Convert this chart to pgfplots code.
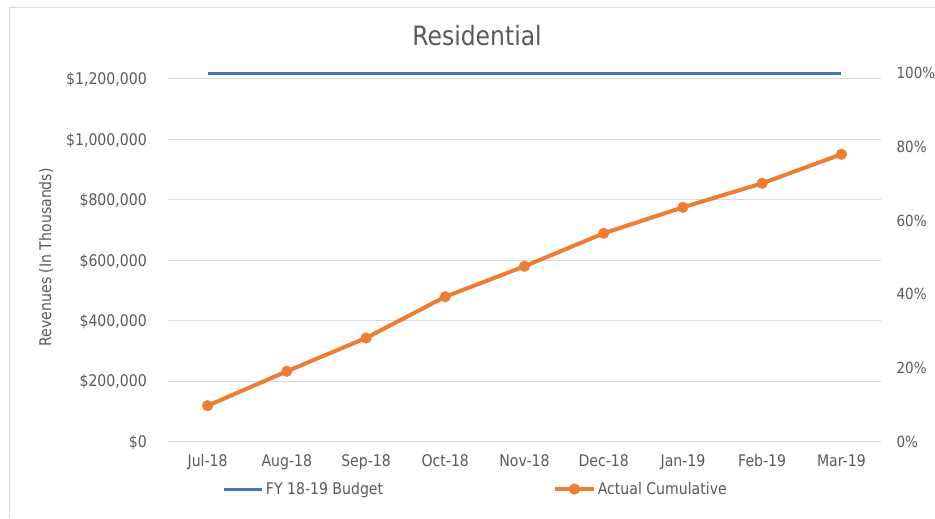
\documentclass[border=0pt]{standalone}
\usepackage{pgfplots}
\pgfplotsset{compat=1.18}
\usepackage{fontspec}
\setmainfont{DejaVu Sans}[FakeStretch=0.88]
\definecolor{budgetblue}{HTML}{4472C4}
\definecolor{actorange}{HTML}{ED7D31}
\definecolor{gridgray}{HTML}{D9D9D9}
\definecolor{textgray}{HTML}{595959}

\pgfplotstableread{
idx actual
0 118500
1 232400
2 342600
3 479300
4 580000
5 689200
6 775300
7 854700
8 950700
}\actualdata

\pgfplotstableread{
idx budget
0 1219800
1 1219800
2 1219800
3 1219800
4 1219800
5 1219800
6 1219800
7 1219800
8 1219800
}\budgetdata

\begin{document}
\begin{tikzpicture}
% page frame, in pixels x 0.75pt
\path[use as bounding box] (0,0) rectangle (701.25pt,-388.5pt);
\draw[gridgray, line width=0.75pt] (6.75pt,-388.5pt) -- (6.75pt,-5.25pt) -- (701.25pt,-5.25pt);

\begin{axis}[
    at={(126pt,-331.125pt)}, anchor=south west,
    scale only axis, width=534.75pt, height=276.375pt,
    xmin=-0.5, xmax=8.5, ymin=0, ymax=1219800,
    clip=false,
    axis line style={draw=none},
    major tick length=0pt,
    xtick={0,...,8},
    xticklabels={Jul-18,Aug-18,Sep-18,Oct-18,Nov-18,Dec-18,Jan-19,Feb-19,Mar-19},
    ytick={0,200000,400000,600000,800000,1000000,1200000},
    yticklabels={\$0,{\$200,000},{\$400,000},{\$600,000},{\$800,000},{\$1,000,000},{\$1,200,000}},
    scaled y ticks=false,
    ymajorgrids,
    grid style={gridgray, line width=0.75pt},
    tick label style={font=\fontsize{12}{14}\selectfont, text=textgray, inner sep=0pt},
    xticklabel style={anchor=base, yshift=-19pt},
    yticklabel style={anchor=base east, xshift=-15.75pt, yshift=-4.4pt},
    ylabel={Revenues (In Thousands)},
    ylabel style={at={(axis description cs:-0.1711,0.5)}, anchor=center,
        font=\fontsize{12}{14}\selectfont, text=textgray},
    title={Residential},
    title style={at={(axis description cs:0.4334,1.0787)}, anchor=center,
        font=\fontsize{20}{24}\selectfont, text=textgray},
    legend columns=2,
    legend style={draw=none, fill=none, at={(0.4313,-0.129)}, anchor=center,
        font=\fontsize{12}{14}\selectfont, text=textgray,
        nodes={inner xsep=1.5pt},
        /tikz/every even column/.append style={column sep=126pt},
        inner sep=0pt},
    legend image code/.code={
        \draw[mark repeat=2, mark phase=2, #1] plot coordinates {(0pt,0pt) (14.5pt,0pt) (29pt,0pt)};
    },
]
\addplot[budgetblue, line width=2.25pt, no marks] table[x=idx, y=budget] {\budgetdata};
\addlegendentry{FY 18-19 Budget}
\addplot[actorange, line width=3pt, mark=*, mark size=3.9pt,
    mark options={fill=actorange, draw=actorange, line width=0.5pt}]
    table[x=idx, y=actual] {\actualdata};
\addlegendentry{Actual Cumulative}
\end{axis}

\begin{axis}[
    at={(126pt,-331.125pt)}, anchor=south west,
    scale only axis, width=534.75pt, height=276.375pt,
    xmin=-0.5, xmax=8.5, ymin=0, ymax=1,
    axis line style={draw=none},
    major tick length=0pt,
    xtick=\empty,
    ytick pos=right,
    ytick={0,0.2,0.4,0.6,0.8,1},
    yticklabels={0\%,20\%,40\%,60\%,80\%,100\%},
    tick label style={font=\fontsize{11.5}{14}\selectfont, text=textgray, inner sep=0pt},
    yticklabel style={anchor=base west, xshift=11.5pt, yshift=-4.2pt},
]
\end{axis}
\end{tikzpicture}
\end{document}
